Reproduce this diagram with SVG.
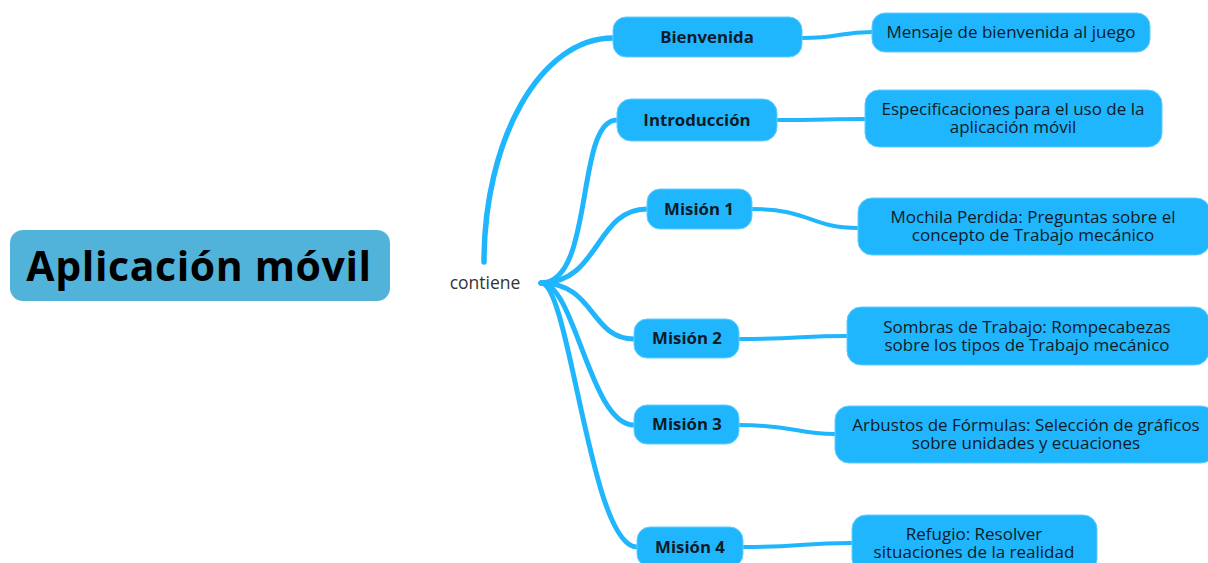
<svg xmlns="http://www.w3.org/2000/svg" width="1208" height="563" viewBox="0 0 1208 563">
<style>
.root{fill:#52b3da}
.n{fill:#1fb6fe;stroke:#63cdfd;stroke-width:1}
.c{fill:none;stroke:#1fb6fe;stroke-linecap:round}
.t1{font-family:"Open Sans","DejaVu Sans",sans-serif;font-weight:700;font-size:16.8px;fill:#0f1b26;text-anchor:middle}
.t2{font-family:"Open Sans","DejaVu Sans",sans-serif;font-size:17px;fill:#0f1b26;text-anchor:middle}
.tr{font-family:"Open Sans","DejaVu Sans",sans-serif;font-weight:700;font-size:41px;letter-spacing:0.6px;fill:#000;text-anchor:middle}
.lbl{font-family:"Open Sans","DejaVu Sans",sans-serif;font-size:17.5px;fill:#333;text-anchor:middle}
</style>
<rect width="1208" height="563" fill="#fff"/>
<g id="connectors">
<path class="c" stroke-width="5.5" d="M484,262 C484,140 540,38 613,38"/>
<path class="c" stroke-width="5" d="M541,283 C595,283 575,120 617,120"/>
<path class="c" stroke-width="5" d="M541,283 C600,283 595,209 647,209"/>
<path class="c" stroke-width="5" d="M541,283 C595,283 590,339 634,339"/>
<path class="c" stroke-width="5" d="M541,283 C575,283 590,425 634,425"/>
<path class="c" stroke-width="5" d="M541,283 C570,283 590,547 637,547"/>
<path class="c" stroke-width="4" d="M802,38 C840,38 840,32 872,32"/>
<path class="c" stroke-width="4" d="M777,120 C820,120 830,119 865,119"/>
<path class="c" stroke-width="4" d="M752,209 C810,209 810,228 858,228"/>
<path class="c" stroke-width="4" d="M739,339 C800,339 800,336 847,336"/>
<path class="c" stroke-width="4" d="M739,425 C795,425 795,434 835,434"/>
<path class="c" stroke-width="4" d="M743,547 C800,547 800,543 852,543"/>
</g>
<g id="root"><rect class="root" x="10" y="230" width="380" height="71" rx="13"/><text class="tr" x="199" y="281">Aplicación móvil</text></g>
<g id="label-contiene"><text class="lbl" x="485" y="289">contiene</text></g>
<g id="bienvenida"><rect class="n" x="613" y="17" width="189" height="40" rx="13"/><text class="t1" x="707" y="43">Bienvenida</text></g>
<g id="introduccion"><rect class="n" x="617" y="99" width="160" height="42" rx="14"/><text class="t1" x="697" y="126">Introducción</text></g>
<g id="mision1"><rect class="n" x="647" y="189" width="105" height="40" rx="13"/><text class="t1" x="699" y="215">Misión 1</text></g>
<g id="mision2"><rect class="n" x="634" y="319" width="105" height="39" rx="13"/><text class="t1" x="687" y="344">Misión 2</text></g>
<g id="mision3"><rect class="n" x="634" y="405" width="105" height="39" rx="13"/><text class="t1" x="687" y="430">Misión 3</text></g>
<g id="mision4"><rect class="n" x="637" y="527" width="106" height="40" rx="13"/><text class="t1" x="690" y="553">Misión 4</text></g>
<g id="mensaje"><rect class="n" x="872" y="13" width="278" height="39" rx="13"/><text class="t2" x="1011" y="38">Mensaje de bienvenida al juego</text></g>
<g id="especificaciones"><rect class="n" x="865" y="90" width="297" height="57" rx="14"/><text class="t2" x="1013" y="115">Especificaciones para el uso de la</text><text class="t2" x="1013" y="133">aplicación móvil</text></g>
<g id="mochila"><rect class="n" x="858" y="198" width="352" height="57" rx="14"/><text class="t2" x="1033" y="223">Mochila Perdida: Preguntas sobre el</text><text class="t2" x="1033" y="241">concepto de Trabajo mecánico</text></g>
<g id="sombras"><rect class="n" x="847" y="307" width="362" height="58" rx="14"/><text class="t2" x="1027" y="333">Sombras de Trabajo: Rompecabezas</text><text class="t2" x="1027" y="351">sobre los tipos de Trabajo mecánico</text></g>
<g id="arbustos"><rect class="n" x="835" y="406" width="380" height="57" rx="14"/><text class="t2" x="1026" y="431">Arbustos de Fórmulas: Selección de gráficos</text><text class="t2" x="1026" y="449">sobre unidades y ecuaciones</text></g>
<g id="refugio"><rect class="n" x="852" y="515" width="245" height="58" rx="14"/><text class="t2" x="974" y="540">Refugio: Resolver</text><text class="t2" x="974" y="558">situaciones de la realidad</text></g>
</svg>
